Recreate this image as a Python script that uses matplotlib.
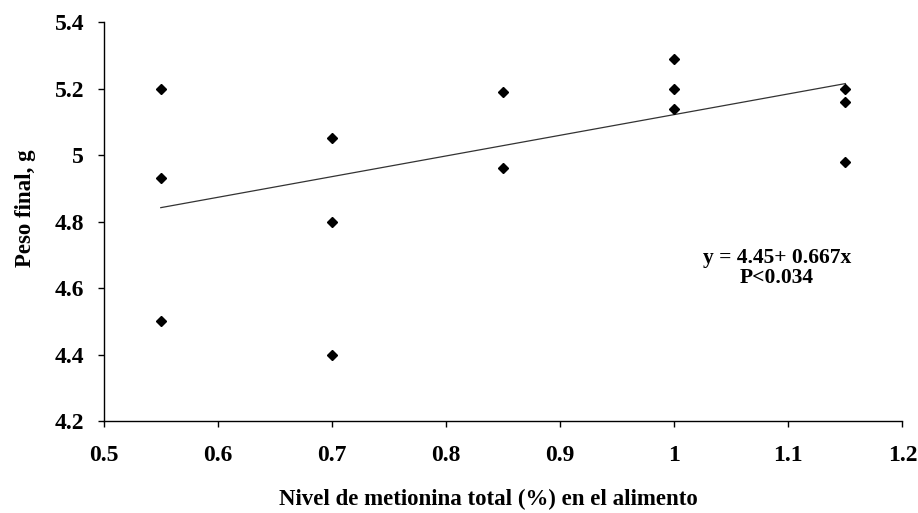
import numpy as np
import matplotlib
matplotlib.use('Agg')
import matplotlib.pyplot as plt

# Data
metionina = [0.55, 0.55, 0.55, 0.70, 0.70, 0.70, 0.85, 0.85,
             1.00, 1.00, 1.00, 1.15, 1.15, 1.15]
peso = [5.20, 4.93, 4.50, 5.05, 4.80, 4.40, 5.19, 4.96,
        5.29, 5.20, 5.14, 5.20, 5.16, 4.98]

# Trend line end points as drawn in the reference
trend_x = [0.55, 1.15]
trend_y = [4.842, 5.215]

x_ticks = [0.5, 0.6, 0.7, 0.8, 0.9, 1.0, 1.1, 1.2]
x_labels = ['0.5', '0.6', '0.7', '0.8', '0.9', '1', '1.1', '1.2']
y_ticks = [4.2, 4.4, 4.6, 4.8, 5.0, 5.2, 5.4]
y_labels = ['4.2', '4.4', '4.6', '4.8', '5', '5.2', '5.4']

plt.rcParams['font.family'] = ['Liberation Serif', 'DejaVu Serif']
plt.rcParams['font.weight'] = 'bold'

fig = plt.figure(figsize=(9.18, 5.13), dpi=100)
ax = fig.add_axes([0.113, 0.179, 0.870, 0.778])

ax.plot(trend_x, trend_y, color='#333333', lw=0.9)
ax.plot(metionina, peso, linestyle='none', marker='D', ms=5.5,
        color='black')

ax.set_xlim(0.5, 1.2)
ax.set_ylim(4.2, 5.4)
ax.set_xticks(x_ticks)
ax.set_xticklabels(x_labels)
ax.set_yticks(y_ticks)
ax.set_yticklabels(y_labels)
ax.tick_params(direction='out', length=4, width=1, labelsize=17)
ax.tick_params(axis='x', pad=13)
ax.tick_params(axis='y', pad=10)

for side in ['top', 'right']:
    ax.spines[side].set_visible(False)
for side in ['left', 'bottom']:
    ax.spines[side].set_linewidth(1)

ax.set_xlabel('Nivel de metionina total (%) en el alimento', fontsize=16.5,
              fontweight='bold')
ax.xaxis.set_label_coords(0.481, -0.17)
ax.set_ylabel('Peso final, g', fontsize=16.5, fontweight='bold')
ax.yaxis.set_label_coords(-0.085, 0.534)

ax.text(1.09, 4.66, 'y = 4.45+ 0.667x\nP<0.034', ha='center', va='center',
        fontsize=15.5, fontweight='bold', linespacing=1.0)

fig.savefig('out.png', dpi=100)
